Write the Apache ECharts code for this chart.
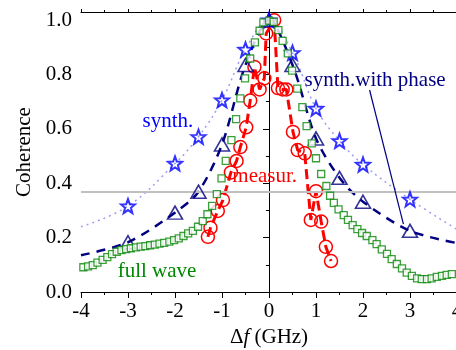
<!DOCTYPE html>
<html><head><meta charset="utf-8">
<script src="https://cdn.jsdelivr.net/npm/echarts@6/dist/echarts.min.js"></script>
<style>html,body{margin:0;padding:0;background:#fff}#c{width:456px;height:350px}</style>
</head><body><div id="c"></div>
<script>
// ---- data ----
const xTicks = [-4, -3, -2, -1, 0, 1, 2, 3, 4];
const yTicks = [0.0, 0.2, 0.4, 0.6, 0.8, 1.0];
const coherenceLevel = 0.3679; // 1/e reference line

const fullWave = [[-3.95,0.091],[-3.85,0.094],[-3.75,0.099],[-3.65,0.108],[-3.54,0.118],[-3.44,0.128],[-3.34,0.139],[-3.24,0.148],[-3.14,0.154],[-3.04,0.158],[-2.94,0.161],[-2.83,0.164],[-2.73,0.167],[-2.63,0.169],[-2.53,0.172],[-2.43,0.174],[-2.33,0.178],[-2.23,0.181],[-2.12,0.185],[-2.02,0.191],[-1.92,0.197],[-1.82,0.206],[-1.72,0.216],[-1.62,0.225],[-1.51,0.240],[-1.41,0.261],[-1.31,0.286],[-1.21,0.317],[-1.11,0.360],[-1.01,0.418],[-0.92,0.482],[-0.80,0.559],[-0.70,0.636],[-0.61,0.712],[-0.51,0.786],[-0.40,0.859],[-0.30,0.918],[-0.20,0.961],[-0.12,0.992],[0.0,0.998],[0.10,0.994],[0.20,0.963],[0.29,0.924],[0.40,0.878],[0.49,0.814],[0.60,0.748],[0.71,0.680],[0.80,0.610],[0.91,0.547],[1.00,0.492],[1.11,0.434],[1.22,0.390],[1.30,0.354],[1.38,0.328],[1.48,0.304],[1.59,0.283],[1.68,0.265],[1.78,0.246],[1.88,0.231],[1.98,0.217],[2.08,0.206],[2.20,0.191],[2.29,0.176],[2.40,0.157],[2.51,0.140],[2.61,0.121],[2.72,0.103],[2.83,0.087],[2.93,0.071],[3.04,0.059],[3.15,0.050],[3.25,0.047],[3.36,0.047],[3.46,0.050],[3.57,0.056],[3.68,0.059],[3.78,0.063],[3.89,0.066]];

const measured = [[-1.30,0.203],[-1.245,0.236],[-1.09,0.298],[-0.98,0.338],[-0.81,0.44],[-0.69,0.482],[-0.61,0.533],[-0.485,0.606],[-0.40,0.704],[-0.31,0.828],[-0.20,0.745],[-0.10,0.786],[-0.06,0.951],[0.11,1.0],[0.19,0.75],[0.29,0.745],[0.37,0.745],[0.51,0.589],[0.61,0.522],[0.76,0.51],[0.89,0.265],[1.0,0.371],[1.11,0.259],[1.21,0.166],[1.32,0.114]];

const synthPoints = [[-3,0.316],[-2,0.473],[-1.5,0.571],[-1,0.706],[-0.5,0.892],[0,1.0],[0.5,0.88],[1,0.675],[1.5,0.556],[2,0.469],[3,0.341]];
const synthCurve = [[-4,0.24],[-3,0.316],[-2,0.473],[-1.5,0.571],[-1,0.706],[-0.5,0.892],[0,1.0],[0.5,0.88],[1,0.675],[1.5,0.556],[2,0.469],[3,0.341],[4,0.23]];

const phasePoints = [[-3,0.183],[-2,0.292],[-1.5,0.369],[-1,0.543],[-0.5,0.835],[0,1.0],[0.5,0.835],[1,0.565],[1.5,0.42],[2,0.332],[3,0.225]];
const phaseCurve = [[-4,0.135],[-3,0.183],[-2,0.292],[-1.5,0.369],[-1,0.543],[-0.5,0.835],[0,1.0],[0.5,0.835],[1,0.565],[1.5,0.42],[2,0.332],[3,0.225],[4,0.18]];

// annotation anchors (data coordinates)
const notes = [
  {text:'synth.', at:[-2.69,0.629], color:'#0000ff'},
  {text:'measur.', at:[-0.78,0.426], color:'#ff0000'},
  {text:'full wave', at:[-3.22,0.077], color:'#008800'},
  {text:'synth.with phase', at:[0.755,0.779], color:'#000080'}
];
const arrowFrom = [2.14,0.743], arrowTo = [2.86,0.25];

// ---- chart ----
const FONT = 'Liberation Serif';
const chart = echarts.init(document.getElementById('c'));
const star = 'path://M50 0 L62.34 33.01 L97.55 34.55 L69.97 56.49 L79.39 90.45 L50 71 L20.61 90.45 L30.03 56.49 L2.45 34.55 L37.66 33.01 Z';
const black = {color:'#000', width:1};

chart.setOption({
  animation:false,
  grid:{left:81, top:12, width:376, height:280, outerBoundsMode:'none', containLabel:false},
  xAxis:[{
    type:'value', min:xTicks[0], max:xTicks[xTicks.length-1], interval:1, position:'bottom',
    axisLine:{lineStyle:black}, axisTick:{length:6, lineStyle:black},
    minorTick:{show:true, splitNumber:2, length:3, lineStyle:black},
    splitLine:{show:false},
    axisLabel:{fontFamily:FONT, fontSize:21, color:'#000', margin:9},
    name:'{a|Δ}{b|f}{a| (GHz)}', nameLocation:'middle', nameGap:35,
    nameTextStyle:{rich:{a:{fontFamily:FONT, fontSize:21, color:'#000'}, b:{fontFamily:FONT, fontSize:21, fontStyle:'italic', color:'#000'}}}
  },{
    type:'value', min:xTicks[0], max:xTicks[xTicks.length-1], interval:1, position:'top',
    axisLine:{lineStyle:black}, axisTick:{length:3, lineStyle:black},
    minorTick:{show:true, splitNumber:2, length:2, lineStyle:black},
    splitLine:{show:false}, axisLabel:{show:false}
  }],
  yAxis:[{
    type:'value', min:0, max:1.03, interval:0.2,
    axisLine:{show:true, lineStyle:black}, axisTick:{show:true, length:6, lineStyle:black},
    minorTick:{show:true, splitNumber:2, length:3, lineStyle:black},
    splitLine:{show:false},
    axisLabel:{fontFamily:FONT, fontSize:21, color:'#000', margin:9, showMaxLabel:false,
      formatter:v => yTicks.some(t => Math.abs(t - v) < 1e-6) ? v.toFixed(1) : ''},
    name:'Coherence', nameLocation:'middle', nameGap:42,
    nameTextStyle:{fontFamily:FONT, fontSize:21, color:'#000'}
  }],
  series:[
    {type:'line', data:synthCurve, smooth:0.4, symbol:'none', z:1,
     lineStyle:{color:'#9c9cf2', width:1.5, type:[2,4]},
     markLine:{silent:true, symbol:'none', label:{show:false},
       lineStyle:{color:'#c0c0c0', width:2, type:'solid'}, data:[{yAxis:coherenceLevel}]}},
    {type:'line', data:measured, symbol:'circle', symbolSize:13, z:3,
     itemStyle:{color:'rgba(0,0,0,0)', borderColor:'#ff0000', borderWidth:1.5},
     lineStyle:{color:'#ff0000', width:3, type:[10,5]}},
    {type:'line', data:phaseCurve, smooth:0.3, symbol:'none', z:4,
     lineStyle:{color:'#000080', width:2.5, type:[9,7]},
     markLine:{silent:true, symbol:['none','arrow'], symbolSize:[0,9], label:{show:false},
       lineStyle:{color:'#000080', width:1.2, type:'solid'},
       data:[[{coord:arrowFrom},{coord:arrowTo}]]}},
    {type:'scatter', data:phasePoints, symbol:'triangle', symbolSize:[15,13], z:5,
     itemStyle:{color:'rgba(0,0,0,0)', borderColor:'#000080', borderWidth:1.6}},
    {type:'scatter', data:synthPoints, symbol:star, symbolSize:14, z:5,
     itemStyle:{color:'rgba(0,0,0,0)', borderColor:'#0000ff', borderWidth:2}},
    {type:'scatter', data:fullWave, symbol:'rect', symbolSize:7, z:6,
     itemStyle:{color:'#ffffff', borderColor:'#0a870a', borderWidth:1.3}}
  ]
});

chart.setOption({
  graphic: notes.map(n => {
    const p = chart.convertToPixel({gridIndex:0}, n.at);
    return {type:'text', x:p[0], y:p[1], z:100,
      style:{text:n.text, fill:n.color, font:'21px "Liberation Serif"', verticalAlign:'middle', align:'left'}};
  })
});
</script>
</body></html>
